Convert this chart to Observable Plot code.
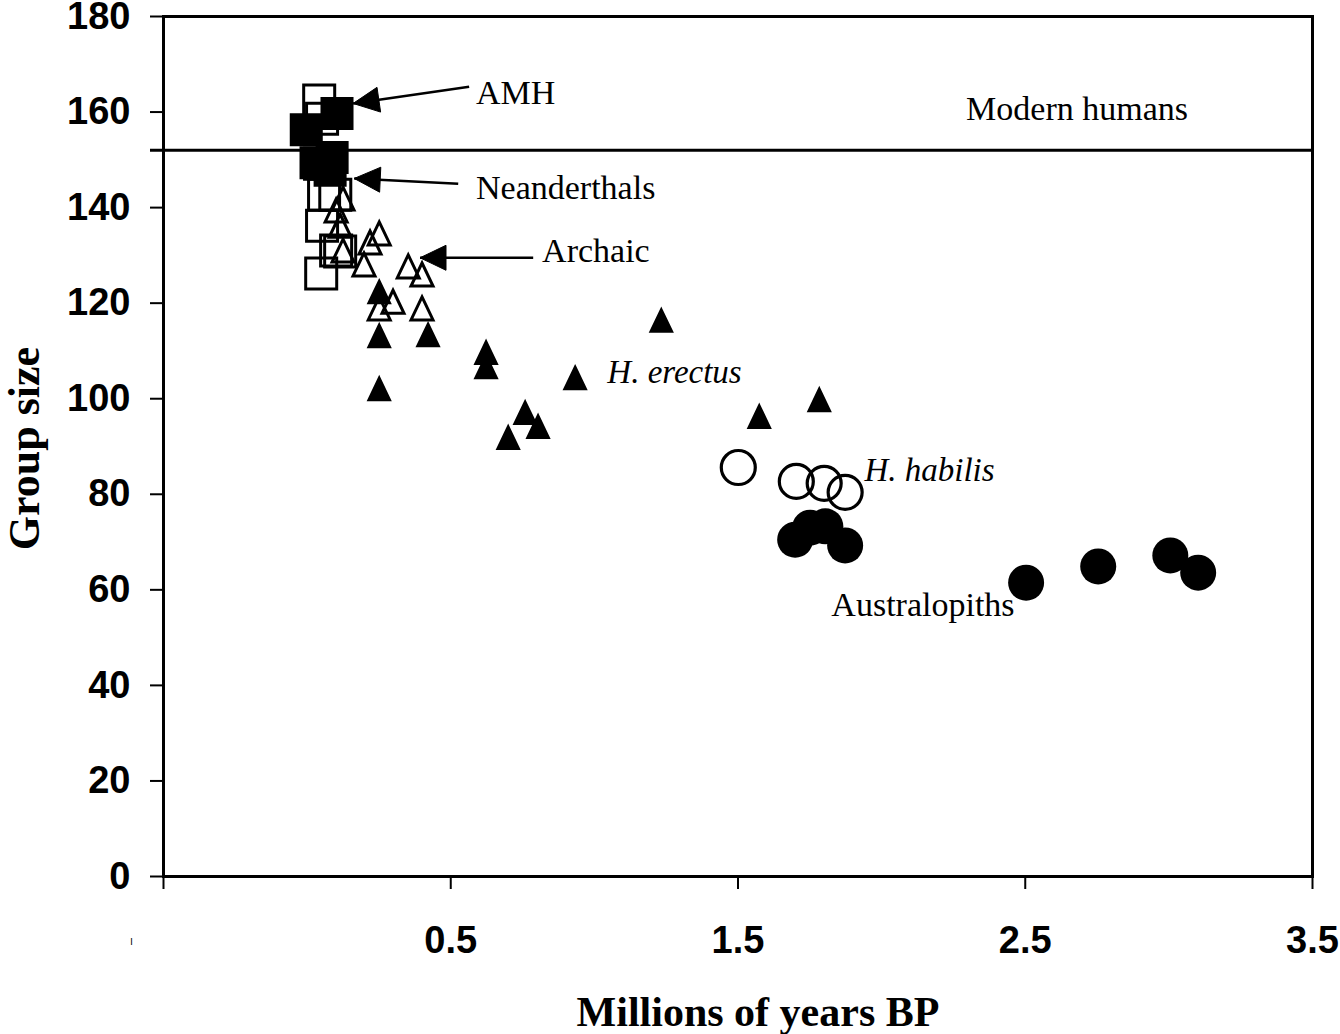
<!DOCTYPE html>
<html>
<head>
<meta charset="utf-8">
<script src="https://cdn.jsdelivr.net/npm/d3@7"></script>
<script src="https://cdn.jsdelivr.net/npm/@observablehq/plot@0.6"></script>
<style>
  html, body { margin: 0; padding: 0; background: #fff; overflow: hidden; }
</style>
</head>
<body>
<div id="chart"></div>
<script>
// ---- tick values ----
const xTicks = [-0.5, 0.5, 1.5, 2.5, 3.5];
const yTicks = [0, 20, 40, 60, 80, 100, 120, 140, 160, 180];
const modernHumans = 152;

// ---- series (x = millions of years BP, y = group size) ----
const amhX = [-0.003, 0.104, 0.031, 0.087, 0.080];
const amhY = [156.3, 159.7, 149.4, 150.5, 147.8];

const neaX = [0.042, 0.052, 0.045, 0.059, 0.098, 0.052, 0.101, 0.115, 0.049];
const neaY = [162.4, 158.6, 149.2, 142.7, 142.7, 136.2, 131.0, 130.8, 126.2];

const arcX = [0.125, 0.101, 0.115, 0.125, 0.251, 0.219, 0.198, 0.352, 0.400, 0.299, 0.251, 0.400];
const arcY = [141.9, 139.4, 136.2, 131.0, 134.6, 132.7, 128.1, 127.7, 126.0, 120.3, 118.9, 118.9];

const ereX = [0.251, 0.251, 0.421, 0.251, 0.623, 0.623, 0.933, 1.233, 0.759, 0.804, 0.700, 1.574, 1.783];
const ereY = [122.4, 113.2, 113.4, 102.1, 109.7, 106.7, 104.4, 116.4, 97.1, 94.2, 91.9, 96.3, 99.8];

const habX = [1.501, 1.703, 1.800, 1.873];
const habY = [85.6, 82.7, 82.3, 80.4];

const ausX = [1.699, 1.751, 1.804, 1.873, 2.503, 2.754, 3.005, 3.102];
const ausY = [70.5, 73.0, 73.3, 69.3, 61.5, 64.9, 67.2, 63.6];

// ---- annotations ----
const labelText = ["AMH", "Neanderthals", "Archaic", "H. erectus", "H. habilis", "Australopiths", "Modern humans"];
const labelX = [0.588, 0.588, 0.818, 1.045, 1.94, 1.825, 2.294];
const labelY = [163.9, 144.1, 130.8, 105.4, 85.0, 56.7, 160.7];
const labelItalic = [false, false, false, true, true, false, false];

const arrowX1 = [0.564, 0.526, 0.787];
const arrowY1 = [165.3, 145.0, 129.5];
const arrowX2 = [0.160, 0.164, 0.393];
const arrowY2 = [161.8, 146.1, 129.5];
const arrowAngle = [-8.3, 2.7, 0]; // head orientation (style)

const pts = (xs, ys) => xs.map((x, i) => ({x, y: ys[i]}));

// custom symbols (styles)
const triUp = {draw(ctx) { ctx.moveTo(0, -11.5); ctx.lineTo(11, 11.5); ctx.lineTo(-11, 11.5); ctx.closePath(); }};
function arrowHead(deg) {
  const a = deg * Math.PI / 180, L = 26, W = 25;
  return {draw(ctx) {
    const bx = L * Math.cos(a), by = L * Math.sin(a);
    const px = -Math.sin(a) * W / 2, py = Math.cos(a) * W / 2;
    ctx.moveTo(0, 0); ctx.lineTo(bx + px, by + py); ctx.lineTo(bx - px, by - py); ctx.closePath();
  }};
}

const serif = "'Liberation Serif', 'Times New Roman', serif";
const sans = "'Liberation Sans', Arial, sans-serif";

const labels = labelText.map((t, i) => ({t, x: labelX[i], y: labelY[i], it: labelItalic[i]}));
const arrows = arrowX1.map((x1, i) => ({x1, y1: arrowY1[i], x2: arrowX2[i], y2: arrowY2[i], a: arrowAngle[i]}));

const plot = Plot.plot({
  width: 1340,
  height: 1034,
  marginLeft: 163,
  marginRight: 28,
  marginTop: 16,
  marginBottom: 158,
  style: {background: "#fff", color: "#000", overflow: "visible"},
  x: {domain: [-0.5, 3.5]},
  y: {domain: [0, 180]},
  marks: [
    Plot.frame({stroke: "#000", strokeWidth: 3}),
    Plot.ruleY([modernHumans], {stroke: "#000", strokeWidth: 3, insetLeft: -13}),
    Plot.axisY({ticks: yTicks, tickSize: 13, tickPadding: 20, strokeWidth: 2, label: null,
      fontSize: 38, fontWeight: "bold", fontFamily: sans, tickFormat: d => String(d)}),
    Plot.axisX({ticks: xTicks, tickSize: 13, tickPadding: 37, strokeWidth: 2, label: null,
      fontSize: 38, fontWeight: "bold", fontFamily: sans,
      tickFormat: d => d === -0.5 ? "" : d3.format(".1f")(d)}),
    Plot.text([xTicks[0]], {x: d => d, frameAnchor: "bottom", dy: 64, dx: -32, text: () => "|",
      fontSize: 7, fontWeight: "bold", fontFamily: sans, lineAnchor: "middle", fill: "#000"}),

    // series
    Plot.dot(pts(ausX, ausY), {x: "x", y: "y", r: 18, fill: "#000", stroke: "none"}),
    Plot.dot(pts(habX, habY), {x: "x", y: "y", r: 17, fill: "none", stroke: "#000", strokeWidth: 3.2}),
    Plot.dot(pts(ereX, ereY), {x: "x", y: "y", symbol: triUp, r: 10, fill: "#000", stroke: "#000", strokeWidth: 2}),
    Plot.dot(pts(arcX, arcY), {x: "x", y: "y", symbol: triUp, r: 10, fill: "none", stroke: "#000", strokeWidth: 3}),
    Plot.dot(pts(neaX, neaY), {x: "x", y: "y", symbol: "square", r: 17.5, fill: "none", stroke: "#000", strokeWidth: 3}),
    Plot.dot(pts(amhX, amhY), {x: "x", y: "y", symbol: "square", r: 17.5, fill: "#000", stroke: "#000", strokeWidth: 2}),

    // arrows
    Plot.link(arrows, {x1: "x1", y1: "y1", x2: "x2", y2: "y2", stroke: "#000", strokeWidth: 2.5}),
    ...arrows.map(a => Plot.dot([a], {x: "x2", y: "y2", symbol: arrowHead(a.a), r: 10, fill: "#000", stroke: "#000", strokeWidth: 1})),

    // labels
    Plot.text(labels.filter(d => !d.it), {x: "x", y: "y", text: "t", textAnchor: "start", lineAnchor: "middle",
      fontSize: 34, fontFamily: serif, fill: "#000"}),
    Plot.text(labels.filter(d => d.it), {x: "x", y: "y", text: "t", textAnchor: "start", lineAnchor: "middle",
      fontSize: 33, fontFamily: serif, fontStyle: "italic", fill: "#000"}),

    // axis titles
    Plot.text(["Millions of years BP"], {frameAnchor: "bottom", dx: 20, dy: 136, lineAnchor: "middle",
      fontSize: 42, fontWeight: "bold", fontFamily: serif, fill: "#000"}),
    Plot.text(["Group size"], {frameAnchor: "left", dx: -139, dy: 2, rotate: -90, textAnchor: "middle", lineAnchor: "middle",
      fontSize: 44, fontWeight: "bold", fontFamily: serif, fill: "#000"})
  ]
});
document.getElementById("chart").appendChild(plot);
</script>
</body>
</html>
